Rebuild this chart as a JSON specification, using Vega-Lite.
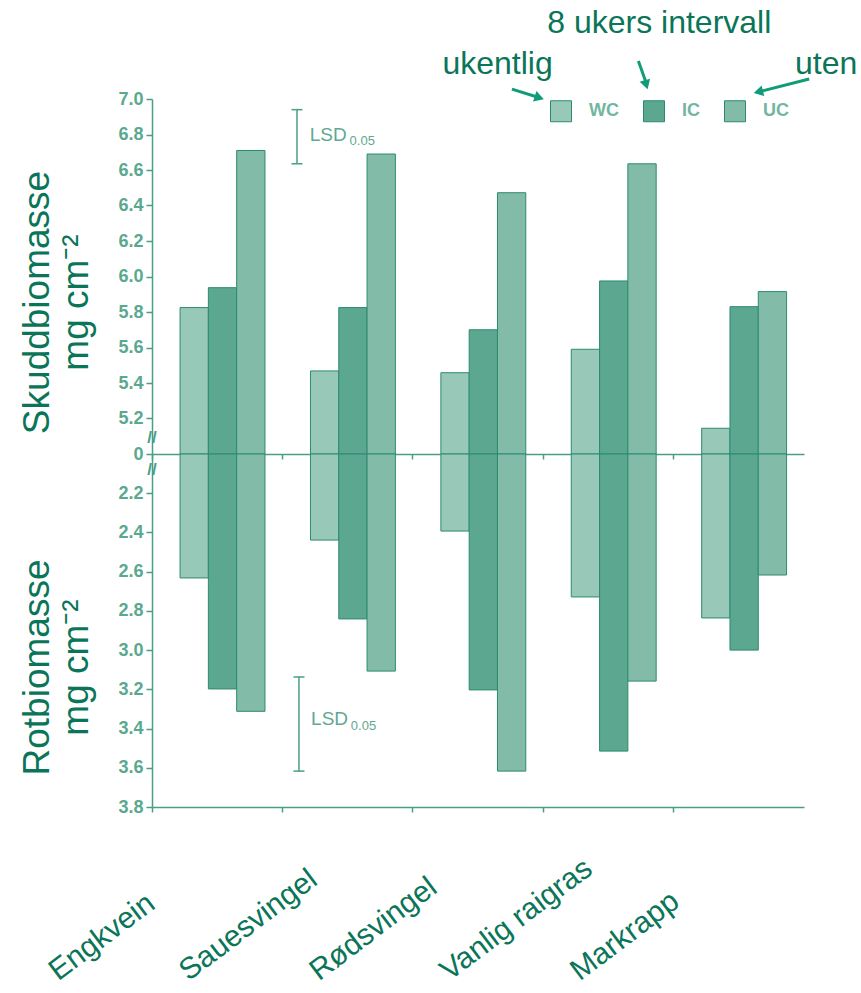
{
  "$schema": "https://vega.github.io/schema/vega-lite/v6.json",
  "autosize": {"type": "pad"},
  "padding": {"left": 18, "top": 6, "right": 0, "bottom": 0},
  "background": "white",
  "spacing": 0,
  "bounds": "flush",
  "config": {
    "view": {"stroke": null},
    "font": "Liberation Sans",
    "axis": {"labelFont": "Liberation Sans", "titleFont": "Liberation Sans", "grid": false, "labelOverlap": false},
    "text": {"font": "Liberation Sans"},
    "legend": {"labelFont": "Liberation Sans"}
  },
  "datasets": {
    "bars": [
      {"species": "Engkvein", "series": "WC", "shoot": 5.825, "root": 2.632},
      {"species": "Engkvein", "series": "IC", "shoot": 5.937, "root": 3.198},
      {"species": "Engkvein", "series": "UC", "shoot": 6.71, "root": 3.312},
      {"species": "Sauesvingel", "series": "WC", "shoot": 5.468, "root": 2.439},
      {"species": "Sauesvingel", "series": "IC", "shoot": 5.825, "root": 2.841},
      {"species": "Sauesvingel", "series": "UC", "shoot": 6.69, "root": 3.107},
      {"species": "Rødsvingel", "series": "WC", "shoot": 5.458, "root": 2.393},
      {"species": "Rødsvingel", "series": "IC", "shoot": 5.7, "root": 3.203},
      {"species": "Rødsvingel", "series": "UC", "shoot": 6.472, "root": 3.617},
      {"species": "Vanlig raigras", "series": "WC", "shoot": 5.59, "root": 2.729},
      {"species": "Vanlig raigras", "series": "IC", "shoot": 5.975, "root": 3.515},
      {"species": "Vanlig raigras", "series": "UC", "shoot": 6.635, "root": 3.158},
      {"species": "Markrapp", "series": "WC", "shoot": 5.145, "root": 2.836},
      {"species": "Markrapp", "series": "IC", "shoot": 5.83, "root": 3.0},
      {"species": "Markrapp", "series": "UC", "shoot": 5.915, "root": 2.617}
    ],
    "lsd": [
      {"panel": "shoot", "lo": 6.635, "hi": 6.94},
      {"panel": "root", "lo": 3.137, "hi": 3.617}
    ],
    "one": [{}]
  },
  "vconcat": [
    {
      "width": 652,
      "height": 355,
      "resolve": {"scale": {"x": "independent"}, "axis": {"x": "independent"}},
      "layer": [
        {
          "data": {"name": "bars"},
          "mark": {"type": "bar", "stroke": "#2d8a70", "strokeWidth": 1},
          "encoding": {
            "x": {
              "field": "species", "type": "nominal",
              "sort": ["Engkvein", "Sauesvingel", "Rødsvingel", "Vanlig raigras", "Markrapp"],
              "scale": {"paddingInner": 0, "paddingOuter": 0},
              "axis": {"title": null, "labels": false, "bandPosition": 0, "tickSize": 5, "tickColor": "#4a9e86", "tickWidth": 1.5, "domainColor": "#4a9e86", "domainWidth": 1.5}
            },
            "xOffset": {
              "field": "series", "type": "nominal", "sort": ["WC", "IC", "UC"],
              "scale": {"paddingInner": 0, "paddingOuter": 0.804, "align": 0.617}
            },
            "y": {
              "field": "shoot", "type": "quantitative",
              "scale": {"domain": [5, 7], "nice": false, "zero": false},
              "axis": {
                "title": ["Skuddbiomasse", "mg cm⁻²"],
                "titleColor": "#0a7558", "titleFontSize": 37, "titleFontWeight": "normal", "titleLineHeight": 39, "titlePadding": 22,
                "titleY": 203,
                "values": [5, 5.2, 5.4, 5.6, 5.8, 6.0, 6.2, 6.4, 6.6, 6.8, 7.0],
                "tickCount": 12,
                "labelExpr": "datum.value < 5.1 ? '0' : format(datum.value, '.1f')",
                "labelOverlap": false,
                "labelFontSize": 18, "labelFontWeight": "bold", "labelColor": "#5aa890", "labelPadding": 3,
                "tickSize": 6, "tickColor": "#4a9e86", "tickWidth": 1.5,
                "domainColor": "#4a9e86", "domainWidth": 1.5
              }
            },
            "y2": {"datum": 5},
            "fill": {
              "field": "series", "type": "nominal",
              "scale": {"domain": ["WC", "IC", "UC"], "range": ["#97c8b8", "#5ba790", "#82bca9"]},
              "legend": {
                "orient": "none", "legendX": 398, "legendY": 1, "direction": "horizontal", "title": null,
                "symbolType": "square", "symbolSize": 441, "symbolStrokeColor": "#2d8a70", "symbolStrokeWidth": 1,
                "labelFontSize": 18, "labelFontWeight": "bold", "labelColor": "#72b6a2", "labelOffset": 17, "columnPadding": 22
              }
            }
          }
        },
        {
          "layer": [
            {
              "data": {"name": "lsd"},
              "transform": [{"filter": "datum.panel == 'shoot'"}],
              "mark": {"type": "rule", "color": "#4a9e86", "strokeWidth": 1.5},
              "encoding": {
                "x": {"datum": 1.112, "type": "quantitative", "scale": {"domain": [0, 5]}, "axis": null},
                "y": {"field": "lo", "type": "quantitative", "scale": {"domain": [5, 7], "nice": false, "zero": false}},
                "y2": {"field": "hi"}
              }
            },
            {
              "data": {"name": "lsd"},
              "transform": [{"filter": "datum.panel == 'shoot'"}],
              "mark": {"type": "point", "shape": "M-1,0L1,0", "filled": false, "color": "#4a9e86", "strokeWidth": 1.5, "size": 121, "opacity": 1},
              "encoding": {
                "x": {"datum": 1.112, "type": "quantitative", "scale": {"domain": [0, 5]}, "axis": null},
                "y": {"field": "lo", "type": "quantitative", "scale": {"domain": [5, 7], "nice": false, "zero": false}}
              }
            },
            {
              "data": {"name": "lsd"},
              "transform": [{"filter": "datum.panel == 'shoot'"}],
              "mark": {"type": "point", "shape": "M-1,0L1,0", "filled": false, "color": "#4a9e86", "strokeWidth": 1.5, "size": 121, "opacity": 1},
              "encoding": {
                "x": {"datum": 1.112, "type": "quantitative", "scale": {"domain": [0, 5]}, "axis": null},
                "y": {"field": "hi", "type": "quantitative", "scale": {"domain": [5, 7], "nice": false, "zero": false}}
              }
            },
            {
              "data": {"name": "one"},
              "mark": {"type": "text", "text": "LSD", "align": "left", "baseline": "middle", "fontSize": 19, "color": "#5fa893"},
              "encoding": {
                "x": {"datum": 1.21, "type": "quantitative", "scale": {"domain": [0, 5]}, "axis": null},
                "y": {"datum": 6.8, "type": "quantitative", "scale": {"domain": [5, 7], "nice": false, "zero": false}}
              }
            },
            {
              "data": {"name": "one"},
              "mark": {"type": "text", "text": "0.05", "align": "left", "baseline": "middle", "fontSize": 13, "color": "#5fa893"},
              "encoding": {
                "x": {"datum": 1.515, "type": "quantitative", "scale": {"domain": [0, 5]}, "axis": null},
                "y": {"datum": 6.765, "type": "quantitative", "scale": {"domain": [5, 7], "nice": false, "zero": false}}
              }
            },
            {
              "data": {"name": "one"},
              "mark": {"type": "text", "text": "//", "align": "center", "baseline": "middle", "fontSize": 17, "fontWeight": "bold", "color": "#4a9e86"},
              "encoding": {
                "x": {"datum": 0, "type": "quantitative", "scale": {"domain": [0, 5]}, "axis": null},
                "y": {"datum": 5.09, "type": "quantitative", "scale": {"domain": [5, 7], "nice": false, "zero": false}}
              }
            },
            {
              "data": {"name": "one"},
              "mark": {"type": "text", "text": "8 ukers intervall", "align": "center", "baseline": "middle", "fontSize": 32, "color": "#0a7558"},
              "encoding": {
                "x": {"datum": 3.89, "type": "quantitative", "scale": {"domain": [0, 5]}, "axis": null},
                "y": {"datum": 7.43, "type": "quantitative", "scale": {"domain": [5, 7], "nice": false, "zero": false}}
              }
            },
            {
              "data": {"name": "one"},
              "mark": {"type": "text", "text": "ukentlig", "align": "center", "baseline": "middle", "fontSize": 32, "color": "#0a7558"},
              "encoding": {
                "x": {"datum": 2.65, "type": "quantitative", "scale": {"domain": [0, 5]}, "axis": null},
                "y": {"datum": 7.2, "type": "quantitative", "scale": {"domain": [5, 7], "nice": false, "zero": false}}
              }
            },
            {
              "data": {"name": "one"},
              "mark": {"type": "text", "text": "uten", "align": "center", "baseline": "middle", "fontSize": 32, "color": "#0a7558"},
              "encoding": {
                "x": {"datum": 5.17, "type": "quantitative", "scale": {"domain": [0, 5]}, "axis": null},
                "y": {"datum": 7.2, "type": "quantitative", "scale": {"domain": [5, 7], "nice": false, "zero": false}}
              }
            },
            {
              "data": {"name": "one"},
              "mark": {"type": "rule", "color": "#109c79", "strokeWidth": 3},
              "encoding": {
                "x": {"datum": 2.76, "type": "quantitative", "scale": {"domain": [0, 5]}, "axis": null},
                "x2": {"datum": 2.96},
                "y": {"datum": 7.056, "type": "quantitative", "scale": {"domain": [5, 7], "nice": false, "zero": false}},
                "y2": {"datum": 7.01}
              }
            },
            {
              "data": {"name": "one"},
              "mark": {"type": "point", "shape": "triangle-up", "filled": true, "color": "#109c79", "size": 120, "angle": 108, "opacity": 1},
              "encoding": {
                "x": {"datum": 2.97, "type": "quantitative", "scale": {"domain": [0, 5]}, "axis": null},
                "y": {"datum": 7.007, "type": "quantitative", "scale": {"domain": [5, 7], "nice": false, "zero": false}}
              }
            },
            {
              "data": {"name": "one"},
              "mark": {"type": "rule", "color": "#109c79", "strokeWidth": 3},
              "encoding": {
                "x": {"datum": 3.73, "type": "quantitative", "scale": {"domain": [0, 5]}, "axis": null},
                "x2": {"datum": 3.79},
                "y": {"datum": 7.214, "type": "quantitative", "scale": {"domain": [5, 7], "nice": false, "zero": false}},
                "y2": {"datum": 7.09}
              }
            },
            {
              "data": {"name": "one"},
              "mark": {"type": "point", "shape": "triangle-up", "filled": true, "color": "#109c79", "size": 120, "angle": 163, "opacity": 1},
              "encoding": {
                "x": {"datum": 3.79, "type": "quantitative", "scale": {"domain": [0, 5]}, "axis": null},
                "y": {"datum": 7.08, "type": "quantitative", "scale": {"domain": [5, 7], "nice": false, "zero": false}}
              }
            },
            {
              "data": {"name": "one"},
              "mark": {"type": "rule", "color": "#109c79", "strokeWidth": 3},
              "encoding": {
                "x": {"datum": 5.04, "type": "quantitative", "scale": {"domain": [0, 5]}, "axis": null},
                "x2": {"datum": 4.66},
                "y": {"datum": 7.113, "type": "quantitative", "scale": {"domain": [5, 7], "nice": false, "zero": false}},
                "y2": {"datum": 7.042}
              }
            },
            {
              "data": {"name": "one"},
              "mark": {"type": "point", "shape": "triangle-up", "filled": true, "color": "#109c79", "size": 120, "angle": 256, "opacity": 1},
              "encoding": {
                "x": {"datum": 4.65, "type": "quantitative", "scale": {"domain": [0, 5]}, "axis": null},
                "y": {"datum": 7.04, "type": "quantitative", "scale": {"domain": [5, 7], "nice": false, "zero": false}}
              }
            }
          ]
        }
      ]
    },
    {
      "width": 652,
      "height": 353,
      "resolve": {"scale": {"x": "independent"}, "axis": {"x": "independent"}},
      "layer": [
        {
          "data": {"name": "bars"},
          "mark": {"type": "bar", "stroke": "#2d8a70", "strokeWidth": 1},
          "encoding": {
            "x": {
              "field": "species", "type": "nominal",
              "sort": ["Engkvein", "Sauesvingel", "Rødsvingel", "Vanlig raigras", "Markrapp"],
              "scale": {"paddingInner": 0, "paddingOuter": 0},
              "axis": {
                "title": null, "bandPosition": 0, "tickSize": 5, "tickColor": "#4a9e86", "tickWidth": 1.5,
                "domainColor": "#4a9e86", "domainWidth": 1.5,
                "labelAngle": -37, "labelAlign": "left", "labelBaseline": "alphabetic",
                "labelOffset": -159, "labelPadding": 169, "labelFontSize": 30, "labelColor": "#0a7558",
                "labelLimit": 0, "labelOverlap": false, "labelBound": false, "labelFlush": false
              }
            },
            "xOffset": {
              "field": "series", "type": "nominal", "sort": ["WC", "IC", "UC"],
              "scale": {"paddingInner": 0, "paddingOuter": 0.804, "align": 0.617}
            },
            "y": {
              "field": "root", "type": "quantitative",
              "scale": {"domain": [2, 3.8], "nice": false, "zero": false, "reverse": true},
              "axis": {
                "title": ["Rotbiomasse", "mg cm⁻²"],
                "titleColor": "#0a7558", "titleFontSize": 37, "titleFontWeight": "normal", "titleLineHeight": 39, "titlePadding": 22,
                "titleY": 213,
                "values": [2.2, 2.4, 2.6, 2.8, 3.0, 3.2, 3.4, 3.6, 3.8],
                "tickCount": 12,
                "labelExpr": "format(datum.value, '.1f')",
                "labelOverlap": false,
                "labelFontSize": 18, "labelFontWeight": "bold", "labelColor": "#5aa890", "labelPadding": 3,
                "tickSize": 6, "tickColor": "#4a9e86", "tickWidth": 1.5,
                "domainColor": "#4a9e86", "domainWidth": 1.5
              }
            },
            "y2": {"datum": 2},
            "fill": {
              "field": "series", "type": "nominal",
              "scale": {"domain": ["WC", "IC", "UC"], "range": ["#97c8b8", "#5ba790", "#82bca9"]}
            }
          }
        },
        {
          "layer": [
            {
              "data": {"name": "lsd"},
              "transform": [{"filter": "datum.panel == 'root'"}],
              "mark": {"type": "rule", "color": "#4a9e86", "strokeWidth": 1.5},
              "encoding": {
                "x": {"datum": 1.127, "type": "quantitative", "scale": {"domain": [0, 5]}, "axis": null},
                "y": {"field": "lo", "type": "quantitative", "scale": {"domain": [2, 3.8], "nice": false, "zero": false, "reverse": true}},
                "y2": {"field": "hi"}
              }
            },
            {
              "data": {"name": "lsd"},
              "transform": [{"filter": "datum.panel == 'root'"}],
              "mark": {"type": "point", "shape": "M-1,0L1,0", "filled": false, "color": "#4a9e86", "strokeWidth": 1.5, "size": 121, "opacity": 1},
              "encoding": {
                "x": {"datum": 1.127, "type": "quantitative", "scale": {"domain": [0, 5]}, "axis": null},
                "y": {"field": "lo", "type": "quantitative", "scale": {"domain": [2, 3.8], "nice": false, "zero": false, "reverse": true}}
              }
            },
            {
              "data": {"name": "lsd"},
              "transform": [{"filter": "datum.panel == 'root'"}],
              "mark": {"type": "point", "shape": "M-1,0L1,0", "filled": false, "color": "#4a9e86", "strokeWidth": 1.5, "size": 121, "opacity": 1},
              "encoding": {
                "x": {"datum": 1.127, "type": "quantitative", "scale": {"domain": [0, 5]}, "axis": null},
                "y": {"field": "hi", "type": "quantitative", "scale": {"domain": [2, 3.8], "nice": false, "zero": false, "reverse": true}}
              }
            },
            {
              "data": {"name": "one"},
              "mark": {"type": "text", "text": "LSD", "align": "left", "baseline": "middle", "fontSize": 19, "color": "#5fa893"},
              "encoding": {
                "x": {"datum": 1.22, "type": "quantitative", "scale": {"domain": [0, 5]}, "axis": null},
                "y": {"datum": 3.35, "type": "quantitative", "scale": {"domain": [2, 3.8], "nice": false, "zero": false, "reverse": true}}
              }
            },
            {
              "data": {"name": "one"},
              "mark": {"type": "text", "text": "0.05", "align": "left", "baseline": "middle", "fontSize": 13, "color": "#5fa893"},
              "encoding": {
                "x": {"datum": 1.525, "type": "quantitative", "scale": {"domain": [0, 5]}, "axis": null},
                "y": {"datum": 3.385, "type": "quantitative", "scale": {"domain": [2, 3.8], "nice": false, "zero": false, "reverse": true}}
              }
            },
            {
              "data": {"name": "one"},
              "mark": {"type": "text", "text": "//", "align": "center", "baseline": "middle", "fontSize": 17, "fontWeight": "bold", "color": "#4a9e86"},
              "encoding": {
                "x": {"datum": 0, "type": "quantitative", "scale": {"domain": [0, 5]}, "axis": null},
                "y": {"datum": 2.08, "type": "quantitative", "scale": {"domain": [2, 3.8], "nice": false, "zero": false, "reverse": true}}
              }
            }
          ]
        }
      ]
    }
  ]
}
